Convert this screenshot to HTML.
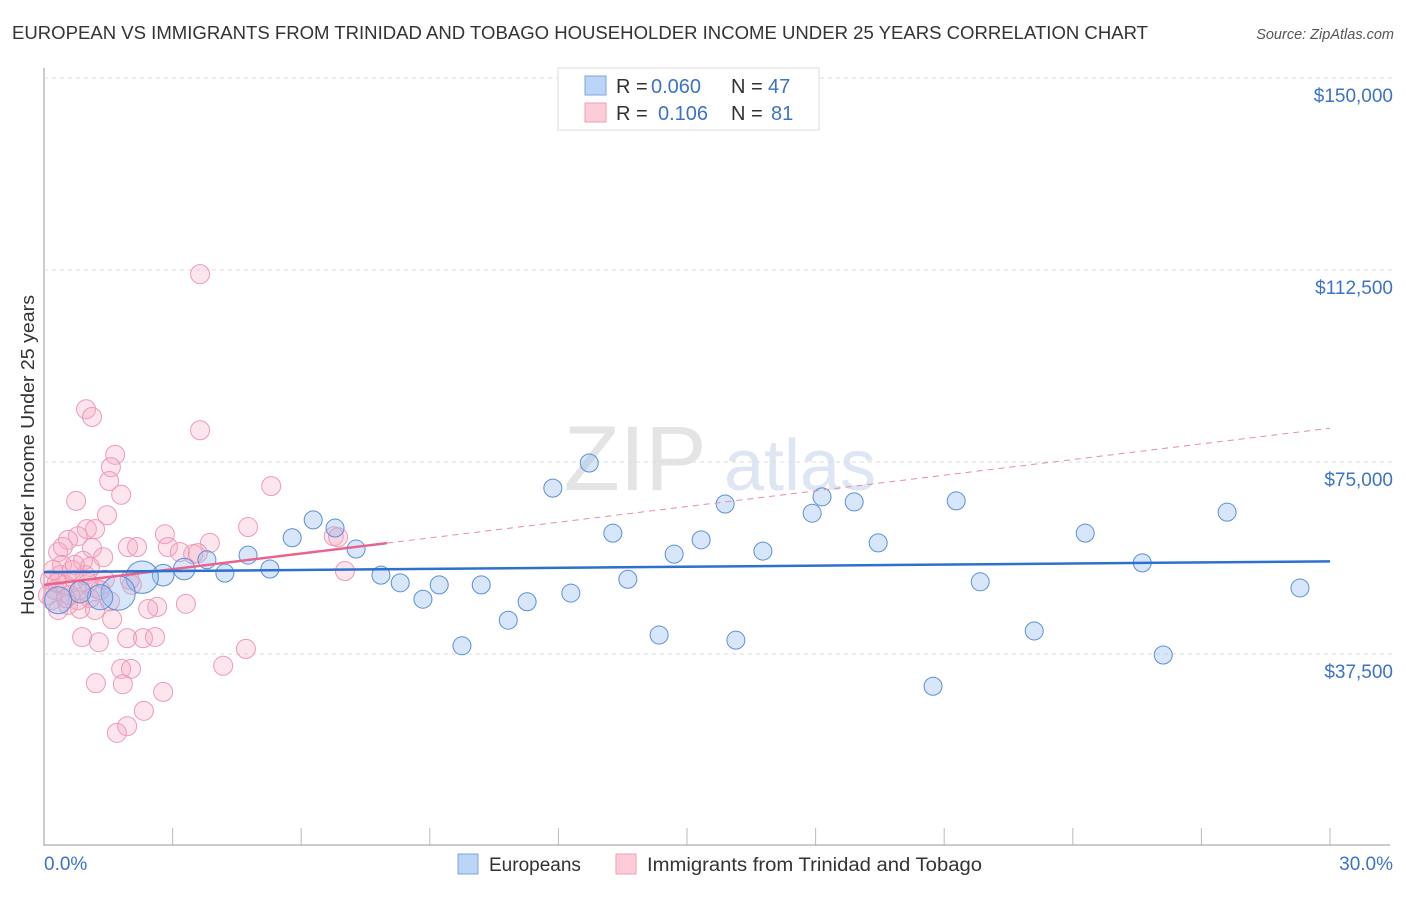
<!DOCTYPE html>
<html><head><meta charset="utf-8"><style>
body{margin:0;background:#fff;font-family:"Liberation Sans",sans-serif}
svg text{font-family:"Liberation Sans",sans-serif}
</style></head><body>
<svg id="c" width="1406" height="892" xmlns="http://www.w3.org/2000/svg">
<text x="12" y="39" font-size="18" fill="#333" textLength="1136" lengthAdjust="spacingAndGlyphs">EUROPEAN VS IMMIGRANTS FROM TRINIDAD AND TOBAGO HOUSEHOLDER INCOME UNDER 25 YEARS CORRELATION CHART</text>
<text x="1394" y="39" font-size="14.5" fill="#555" font-style="italic" text-anchor="end">Source: ZipAtlas.com</text>
<text x="635" y="490" font-size="92" fill="#e4e4e4" font-family="Liberation Serif" text-anchor="middle">ZIP</text>
<text x="800" y="490" font-size="72" fill="#dde6f2" text-anchor="middle">atlas</text>
<text transform="translate(34,455) rotate(-90)" font-size="18" fill="#333" text-anchor="middle" textLength="320" lengthAdjust="spacingAndGlyphs">Householder Income Under 25 years</text>
<g id="grid"></g><g id="marks"></g>
<g>
<rect x="558" y="68" width="261" height="62" fill="#fff" stroke="#ddd"/>
<rect x="585" y="76" width="21" height="19" fill="#bcd4f5" stroke="#7aa6e0"/>
<rect x="585" y="103" width="21" height="19" fill="#fcccd9" stroke="#ef9fb7"/>
<text x="616" y="93" font-size="20" fill="#333">R = <tspan x="651" fill="#3b73c9">0.060</tspan><tspan x="731">N = </tspan><tspan x="768" fill="#3b73c9">47</tspan></text>
<text x="616" y="120" font-size="20" fill="#333">R = <tspan x="658" fill="#3b73c9">0.106</tspan><tspan x="731">N = </tspan><tspan x="771" fill="#3b73c9">81</tspan></text>
</g>
<g>
<rect x="458" y="854" width="20" height="20" fill="#bcd4f5" stroke="#7aa6e0"/>
<text x="489" y="871" font-size="19" fill="#333">Europeans</text>
<rect x="616" y="854" width="20" height="20" fill="#fcccd9" stroke="#ef9fb7"/>
<text x="647" y="871" font-size="19" fill="#333" textLength="335" lengthAdjust="spacingAndGlyphs">Immigrants from Trinidad and Tobago</text>
</g>
</svg>
<script>
const yTicks=[37500,75000,112500,150000];
const yTickLabels=["$37,500","$75,000","$112,500","$150,000"];
const xTickLabels=["0.0%","30.0%"];
const blueX=[12.72,11.87,13.27,14.70,15.33,16.77,15.89,17.92,18.15,18.90,19.46,21.28,21.84,23.10,24.29,25.62,26.11,27.60,29.30,20.74,16.14,14.35,13.62,12.29,11.27,10.83,10.20,9.75,9.22,8.84,8.31,7.86,7.28,6.79,6.28,5.79,5.27,4.76,4.22,3.80,3.27,2.78,2.29,1.73,1.31,0.84,0.33];
const blueY=[74.8,69.9,61.1,57.0,59.8,57.6,66.8,65.0,68.2,67.2,59.2,67.4,51.6,42.0,61.1,55.3,37.3,65.2,50.4,31.2,40.2,41.2,52.1,49.4,47.7,44.1,51.0,39.1,51.0,48.2,51.4,52.9,58.0,62.1,63.7,60.2,54.1,56.8,53.3,55.9,54.1,52.9,52.5,49.4,48.6,49.6,48.0];
const blueSize=[1,1,1,1,1,1,1,1,1,1,1,1,1,1,1,1,1,1,1,1,1,1,1,1,1,1,1,1,1,1,1,1,1,1,1,1,1,1,1,1,1.2,1.2,1.8,1.9,1.4,1.2,1.5];
const pinkX=[0.98,1.12,3.64,3.64,1.66,1.56,1.52,1.80,0.75,1.47,5.30,4.76,2.82,1.00,1.19,0.79,0.56,0.33,0.44,1.12,1.96,2.17,2.89,3.17,3.87,3.48,3.59,1.38,0.91,1.07,6.76,6.86,7.02,2.05,1.19,1.54,2.64,2.43,3.31,0.84,1.59,0.89,1.28,1.94,2.31,2.59,4.71,4.18,1.80,2.03,1.21,1.84,2.78,2.33,1.94,1.70,0.14,0.26,0.19,0.37,0.49,0.61,0.72,0.33,0.56,0.84,0.96,1.07,1.31,1.42,0.42,0.65,0.09,1.19,0.79,1.03,0.21,0.51,0.72,0.30,2.0];
const pinkY=[85.3,83.8,81.2,111.7,76.4,74.0,71.3,68.6,67.4,64.6,70.3,62.3,60.9,61.9,61.9,60.5,59.8,57.4,58.4,58.2,58.4,58.4,58.4,57.4,59.2,57.0,57.2,56.4,55.7,54.5,60.5,60.3,53.7,51.0,50.4,47.8,46.7,46.3,47.3,46.3,44.3,40.8,39.8,40.6,40.6,40.8,38.5,35.2,34.6,34.6,31.8,31.6,30.1,26.4,23.4,22.1,52.0,50.0,48.0,52.9,51.0,49.0,52.0,46.1,47.1,50.0,52.9,48.4,50.0,52.0,54.9,53.9,49.0,46.1,48.0,51.4,53.9,48.4,54.9,51.4,52.0];
const blueTrend=[53.5,55.6];
const pinkTrend=[51.0,81.6];
const pinkSolidEnd=8.0;

const X0=44,X1=1330,Y0=846,PXK=192/37.5;
const sx=v=>X0+(X1-X0)*v/30;
const sy=v=>Y0-v*PXK;
const NS='http://www.w3.org/2000/svg';
function mk(t,a,p){const e=document.createElementNS(NS,t);for(const k in a)e.setAttribute(k,a[k]);p.appendChild(e);return e;}
const g=document.getElementById('grid'),m=document.getElementById('marks');
mk('line',{x1:X0,y1:Y0-1,x2:X1+60,y2:Y0-1,stroke:'#bbb','stroke-width':1.5},g);
mk('line',{x1:X0,y1:68,x2:X0,y2:Y0,stroke:'#bbb','stroke-width':1.5},g);
yTicks.forEach((t,i)=>{
 const y=sy(t/1000);
 const l=mk('line',{x1:X0,y1:y,x2:1394,y2:y,stroke:'#ddd','stroke-dasharray':'4,4'},g);
 
 
 const tx=mk('text',{x:1393,y:y+24,'font-size':19,fill:'#3b73c9','text-anchor':'end'},g);
 tx.textContent=yTickLabels[i];
 
 
});
for(let i=0;i<=10;i++){
 const x=sx(i*3);
 const l=mk('line',{x1:x,y1:Y0-18,x2:x,y2:Y0,stroke:'#bbb'},g);
 
 
}
[[X0,'start',0],[1393,'end',1]].forEach(([x,a,i])=>{
 const t=mk('text',{x:x,y:870,'font-size':19,fill:'#3b73c9','text-anchor':a},g);
 t.textContent=xTickLabels[i];
 
 
});
pinkX.forEach((v,i)=>{
 const c=mk('circle',{cx:sx(v),cy:sy(pinkY[i]),r:9.5,fill:'rgba(246,168,196,0.3)',stroke:'#ee9ab5','stroke-width':1},m);
 
 
});
blueX.forEach((v,i)=>{
 const c=mk('circle',{cx:sx(v),cy:sy(blueY[i]),r:9*blueSize[i],fill:'rgba(150,190,240,0.38)',stroke:'#5b8fd8','stroke-width':1},m);
 
 
});
const pAt=x=>pinkTrend[0]+(pinkTrend[1]-pinkTrend[0])*x/30;
const d=mk('line',{x1:sx(pinkSolidEnd),y1:sy(pAt(pinkSolidEnd)),x2:sx(30),y2:sy(pinkTrend[1]),stroke:'#e88aa8','stroke-width':1,'stroke-dasharray':'6,5'},m);


const s=mk('line',{x1:sx(0),y1:sy(pinkTrend[0]),x2:sx(pinkSolidEnd),y2:sy(pAt(pinkSolidEnd)),stroke:'#e8648f','stroke-width':2.5},m);


const b=mk('line',{x1:sx(0),y1:sy(blueTrend[0]),x2:sx(30),y2:sy(blueTrend[1]),stroke:'#2e6fd0','stroke-width':2.5},m);


</script>
</body></html>
